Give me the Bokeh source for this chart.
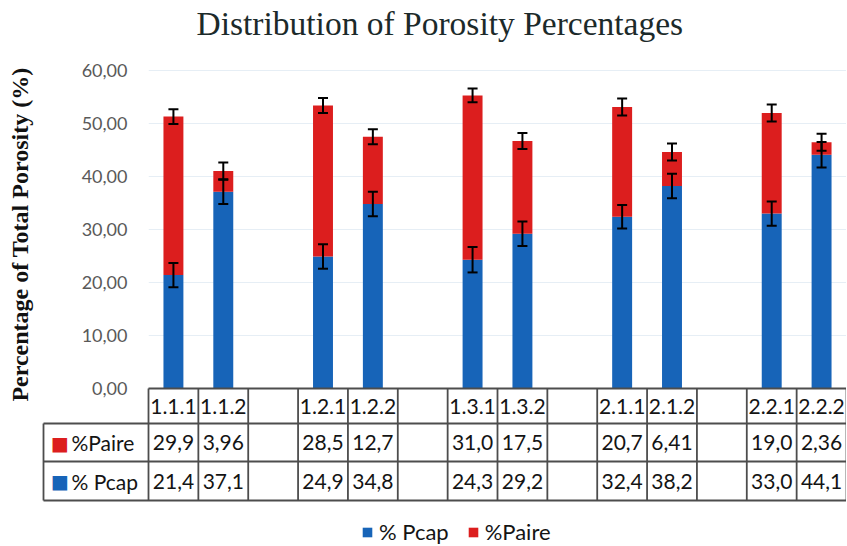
import math
from bokeh.plotting import figure
from bokeh.models import (Range1d, FixedTicker, CustomJSTickFormatter, ColumnDataSource,
                          Whisker, TeeHead, Legend, LegendItem)
from bokeh.core.properties import value
from bokeh.embed import file_html
from bokeh.resources import INLINE

# ---------------- data ----------------
categories = ["1.1.1", "1.1.2", "", "1.2.1", "1.2.2", "", "1.3.1", "1.3.2", "",
              "2.1.1", "2.1.2", "", "2.2.1", "2.2.2"]
pcap = [21.4, 37.1, None, 24.9, 34.8, None, 24.3, 29.2, None, 32.4, 38.2, None, 33.0, 44.1]
paire = [29.9, 3.96, None, 28.5, 12.7, None, 31.0, 17.5, None, 20.7, 6.41, None, 19.0, 2.36]
pcap_err = [2.3, 2.3, None, 2.3, 2.3, None, 2.4, 2.3, None, 2.2, 2.3, None, 2.3, 2.4]
total_err = [1.4, 1.6, None, 1.4, 1.4, None, 1.3, 1.5, None, 1.6, 1.6, None, 1.6, 1.6]
y_ticks = [0, 10, 20, 30, 40, 50, 60]
series_pcap = "% Pcap"
series_paire = "%Paire"
title_text = "Distribution of Porosity Percentages"
y_title = "Percentage of Total Porosity (%)"

BLUE = "#1764b8"
RED = "#dc1e1e"
GRID = "#4d4d4d"
TXT = "#141414"

# ---------------- layout constants (pixels in the figure) ----------------
W, H = 846, 545
LEFT = 148
FRAME_W = W - LEFT
NCOL = len(categories)
COLW = FRAME_W / NCOL
Y0_PX = 388.0        # pixel row of value 0
SCALE = 5.30         # pixels per percent

def vy(px):
    return (Y0_PX - px) / SCALE

def vx(px):
    return (px - LEFT) / COLW

p = figure(width=W, height=H, output_backend="svg", toolbar_location=None,
           x_range=Range1d(0, NCOL), y_range=Range1d(vy(H), vy(0)),
           x_axis_location=None, min_border_left=LEFT, min_border_right=0,
           min_border_top=0, min_border_bottom=0, title=None)
p.outline_line_color = None
p.background_fill_color = "white"
p.border_fill_color = "white"

# y axis
tick = FixedTicker(ticks=y_ticks, minor_ticks=[])
ax = p.yaxis[0]
ax.ticker = tick
ax.formatter = CustomJSTickFormatter(code="return tick.toFixed(2).replace('.', ',');")
ax.axis_line_color = None
ax.major_tick_line_color = None
ax.minor_tick_line_color = None
ax.major_tick_out = 0
ax.major_tick_in = 0
ax.major_label_standoff = 21
ax.major_label_text_font = "Lato"
ax.major_label_text_font_size = "18px"
ax.major_label_text_color = "#595959"

p.ygrid.ticker = tick
p.ygrid.grid_line_color = "#dbe7f1"
p.ygrid.grid_line_alpha = 0.7
p.xgrid.visible = False

# title and y-axis title
p.text(x=[vx(196)], y=[vy(23)], text=[title_text], text_font=value("Liberation Serif"),
       text_font_size="33.5px", text_align="left", text_baseline="middle",
       text_color="#1c2a2a", level="overlay")
p.text(x=[vx(19)], y=[vy(234)], text=[y_title], angle=math.pi / 2,
       text_font=value("Liberation Serif"), text_font_style="bold", text_font_size="24px",
       text_align="center", text_baseline="middle", text_color="#111111", level="overlay")

# ---------------- bars ----------------
idx = [i for i, v in enumerate(pcap) if v is not None]
xs = [i + 0.5 for i in idx]
pc = [pcap[i] for i in idx]
pa = [paire[i] for i in idx]
tot = [pcap[i] + paire[i] for i in idx]
src = ColumnDataSource(dict(x=xs, pcap=pc, paire=pa, total=tot,
                            lo1=[pcap[i] - pcap_err[i] for i in idx],
                            hi1=[pcap[i] + pcap_err[i] for i in idx],
                            lo2=[pcap[i] + paire[i] - total_err[i] for i in idx],
                            hi2=[pcap[i] + paire[i] + total_err[i] for i in idx]))

r_blue = p.vbar(x="x", bottom=0, top="pcap", width=0.4, source=src,
                fill_color=BLUE, line_color=None)
r_red = p.vbar(x="x", bottom="pcap", top="total", width=0.4, source=src,
               fill_color=RED, line_color=None)

for lo, hi in (("lo1", "hi1"), ("lo2", "hi2")):
    w = Whisker(base="x", lower=lo, upper=hi, source=src, line_color="black", line_width=2,
                upper_head=TeeHead(size=10, line_width=2, line_color="black"),
                lower_head=TeeHead(size=10, line_width=2, line_color="black"),
                level="overlay")
    p.add_layout(w)

# ---------------- data table ----------------
ROW_TOP = [388, 423, 461]
ROW_BOT = [423, 461, 500]
TBL_LEFT = 43

x0s, y0s, x1s, y1s = [], [], [], []
x0s.append(0); x1s.append(NCOL); y0s.append(vy(388)); y1s.append(vy(388))
for py in (423, 461, 500):
    x0s.append(vx(TBL_LEFT)); x1s.append(NCOL); y0s.append(vy(py)); y1s.append(vy(py))
for c in range(NCOL + 1):
    x0s.append(c); x1s.append(c); y0s.append(vy(388)); y1s.append(vy(500))
x0s.append(vx(TBL_LEFT)); x1s.append(vx(TBL_LEFT)); y0s.append(vy(423)); y1s.append(vy(500))
p.segment(x0=x0s, y0=y0s, x1=x1s, y1=y1s, line_color=GRID, line_width=1.8, level="overlay")

def fmt(v):
    s = f"{v:.1f}" if v >= 10 else f"{v:.2f}"
    return s.replace(".", ",")

cx = [i + 0.5 for i in range(NCOL)]
row_c = [(a + b) / 2 for a, b in zip(ROW_TOP, ROW_BOT)]
txt_kw = dict(text_font=value("Lato"), text_font_size="21px", text_align="center",
              text_baseline="middle", text_color=TXT, level="overlay")
p.text(x=cx, y=[vy(row_c[0])] * NCOL, text=categories, **txt_kw)
p.text(x=xs, y=[vy(row_c[1])] * len(xs), text=[fmt(v) for v in pa], **txt_kw)
p.text(x=xs, y=[vy(row_c[2])] * len(xs), text=[fmt(v) for v in pc], **txt_kw)

# row headers with colour keys
p.text(x=[vx(59.5), vx(59.5)], y=[vy(row_c[1]), vy(row_c[2])], text=["\u25a0", "\u25a0"],
       text_font=value("DejaVu Sans"), text_font_size="19px", text_align="center",
       text_baseline="middle", text_color=[RED, BLUE], level="overlay")
p.text(x=[vx(71), vx(71)], y=[vy(row_c[1]), vy(row_c[2])], text=[series_paire, series_pcap],
       text_font=value("Lato"), text_font_size="21px", text_align="left",
       text_baseline="middle", text_color=TXT, level="overlay")

# ---------------- legend ----------------
legend = Legend(items=[LegendItem(label=series_pcap, renderers=[r_blue]),
                       LegendItem(label=series_paire, renderers=[r_red])],
                orientation="horizontal", location=(361 - LEFT, 0), padding=0, margin=0,
                spacing=18, label_standoff=6, glyph_width=12, glyph_height=12,
                label_text_font="Lato", label_text_font_size="22px",
                label_text_color=TXT, border_line_color=None,
                background_fill_alpha=0)
p.add_layout(legend)

open("out.html", "w").write(file_html(p, INLINE))
